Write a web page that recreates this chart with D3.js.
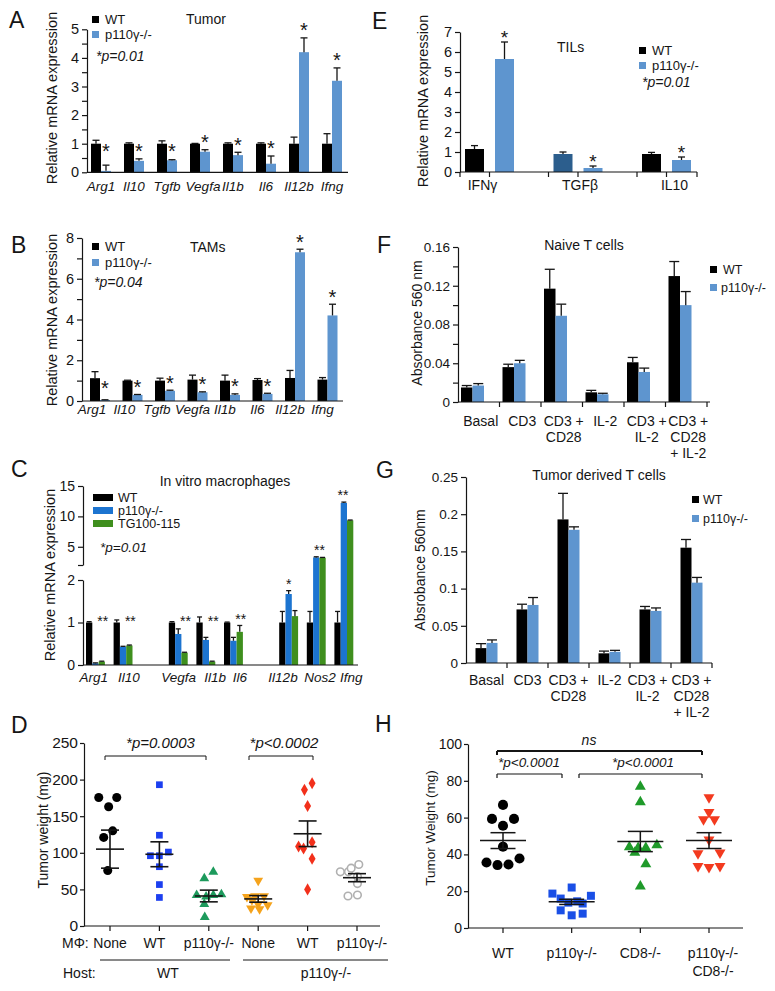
<!DOCTYPE html>
<html><head><meta charset="utf-8">
<script src="https://cdn.jsdelivr.net/npm/d3@7"></script>
<style>body{margin:0;background:#fff}svg{display:block}text{font-family:Arial,"Liberation Sans",sans-serif}</style>
</head><body><script>
// ================= DATA =================
// A: Tumor
const genesA = ["Arg1","Il10","Tgfb","Vegfa","Il1b","Il6","Il12b","Ifng"];
const tumorWT    = [1,1,1,1,1,1,1,1];
const tumorWTErr = [0.12,0.03,0.10,0.01,0.03,0.03,0.23,0.35];
const tumorKO    = [0.05,0.40,0.42,0.72,0.60,0.30,4.20,3.20];
const tumorKOErr = [0.20,0.07,0.02,0.07,0.10,0.27,0.50,0.45];
const tumorTicks = [0,1,2,3,4,5];
// B: TAMs
const tamWT    = [1.12,1.00,1.00,1.05,1.00,1.03,1.13,1.05];
const tamWTErr = [0.32,0.02,0.12,0.22,0.27,0.07,0.37,0.10];
const tamKO    = [0.05,0.30,0.50,0.43,0.30,0.35,7.30,4.20];
const tamKOErr = [0.01,0.02,0.03,0.02,0.05,0.03,0.15,0.55];
const tamTicks = [0,2,4,6,8];
// C: In vitro macrophages
const genesC = ["Arg1","Il10","Vegfa","Il1b","Il6","Il12b","Nos2","Ifng"];
const slotsC = ["Arg1","Il10","gap1","Vegfa","Il1b","Il6","gap2","Il12b","Nos2","Ifng"];
const vitroWT    = [1,1,1,1,1,1,1,1];
const vitroWTErr = [0.02,0.06,0.02,0.13,0.01,0.26,0.26,0.26];
const vitroKO    = [0.04,0.43,0.73,0.59,0.57,1.67,3.25,12.2];
const vitroKOErr = [0.01,0.01,0.12,0.06,0.08,0.08,0.10,0.15];
const vitroTG    = [0.08,0.46,0.29,0.08,0.78,1.15,3.20,9.35];
const vitroTGErr = [0.01,0.01,0.01,0.01,0.15,0.13,0.05,0.05];
const vitroSig   = ["**","**","**","**","**","*","**","**"];
// D: tumor weight, macrophage transfer
const dLabels = ["None","WT","p110γ-/-","None","WT","p110γ-/-"];
const dPoints = [
  [[175.6,-2.5],[175.6,1.5],[163,-0.3],[130,0.6],[121,-1.4],[75.7,-0.5]],
  [[193,0],[124,0],[96,-2],[96,0],[101,2],[81,0],[56.6,0],[39,0]],
  [[65,-1],[74,1],[42,-2.7],[40,-0.6],[42,1],[43,2.8],[30,-1],[12,-0.9]],
  [[62,0],[40,-2.5],[41,-0.7],[41,1.3],[35.6,-1.4],[30,0],[24,-1.6],[28.7,2.1],[23,0.3]],
  [[186,-0.7],[195,1],[164,0],[108.6,-2],[106,-0.9],[114.5,1],[92,1],[50,0]],
  [[74,-3.7],[74,-1.9],[84,0.4],[79,-1.3],[67.5,0.1],[58,0.1],[41,-2],[42.4,0.1]]
];
const dMean = [105,98,41,37,126,66];
const dSem  = [26,17,8,4.5,17.5,5.5];
const dTicks = [0,50,100,150,200,250];
// E: TILs
const tilGenes = ["IFNγ","TGFβ","IL10"];
const tilWT    = [1.15,0.90,0.90];
const tilWTErr = [0.17,0.10,0.08];
const tilKO    = [5.65,0.20,0.60];
const tilKOErr = [0.85,0.10,0.15];
const tilTicks = [0,1,2,3,4,5,6,7];
// F: Naive T cells
const stimLabels = [["Basal"],["CD3"],["CD3 +","CD28"],["IL-2"],["CD3 +","IL-2"],["CD3 +","CD28","+ IL-2"]];
const naiveWT    = [0.015,0.036,0.117,0.010,0.041,0.130];
const naiveWTErr = [0.002,0.003,0.020,0.002,0.005,0.015];
const naiveKO    = [0.017,0.040,0.089,0.008,0.031,0.100];
const naiveKOErr = [0.002,0.003,0.012,0.001,0.004,0.014];
const naiveTicks = [0,0.04,0.08,0.12,0.16];
// G: Tumor derived T cells
const tdWT    = [0.020,0.072,0.193,0.013,0.072,0.155];
const tdWTErr = [0.006,0.007,0.035,0.003,0.004,0.011];
const tdKO    = [0.027,0.078,0.179,0.015,0.070,0.108];
const tdKOErr = [0.004,0.010,0.004,0.002,0.004,0.007];
const tdTicks = [0,0.05,0.1,0.15,0.2,0.25];
// H: tumor weight, CD8
const hLabels = [["WT"],["p110γ-/-"],["CD8-/-"],["p110γ-/-","CD8-/-"]];
const hPoints = [
  [[66.9,0],[59.3,-2],[55.6,0],[59.3,2],[44.2,0],[35.6,-3],[34.2,-1],[34.5,1],[37.8,3]],
  [[22,0],[18.7,-3.5],[17.5,3.5],[16,-2],[14.5,1],[13.8,-0.6],[13.3,2],[9.6,-2],[7.8,2],[6.9,0]],
  [[76.9,0],[68.4,0],[44,-2],[43.6,-0.4],[43.6,1],[45,3],[41,-1],[34.7,1],[22.7,0]],
  [[71,0],[63,0],[59,-1],[59,1],[48,0],[40.5,-2],[41,2],[33.6,-2],[33,0],[33.6,2]]
];
const hMean = [47.5,14.2,47,47.5];
const hSem  = [4.3,1.4,5.5,4.3];
const hTicks = [0,20,40,60,80,100];

// ================= DRAWING =================
const INK = "#151515";
const LBLUE = "#5e95cf";
const svg = d3.select("body").append("svg").attr("width",775).attr("height",991);

function txt(x,y,s,o={}){
  return svg.append("text").attr("x",x).attr("y",y).text(s)
    .attr("font-size",o.fs||14).attr("text-anchor",o.anchor||"start")
    .attr("font-style",o.italic?"italic":null).attr("fill",o.fill||INK);
}
function vtitle(x,y,s,fs){
  svg.append("text").attr("transform",`translate(${x},${y}) rotate(-90)`)
    .attr("text-anchor","middle").attr("dominant-baseline","central")
    .attr("font-size",fs||14.5).attr("fill",INK).text(s);
}
function star(x,cy,s,fs){ txt(x, cy+0.575*fs, s, {fs, anchor:"middle"}); }
function hline(x1,x2,y,w){ svg.append("line").attr("x1",x1).attr("x2",x2).attr("y1",y).attr("y2",y).attr("stroke",INK).attr("stroke-width",w||1.2); }
function vline(x,y1,y2,w){ svg.append("line").attr("x1",x).attr("x2",x).attr("y1",y1).attr("y2",y2).attr("stroke",INK).attr("stroke-width",w||1.2); }

function yAxis(y,x,major,minor,fmt,fs,size,pad){
  const g = svg.append("g").attr("transform",`translate(${x},0)`);
  g.call(d3.axisLeft(y).tickValues(major).tickFormat(fmt).tickSize(size||5).tickSizeOuter(0).tickPadding(pad||3));
  if(minor){ const m=g.append("g").call(d3.axisLeft(y).tickValues(minor).tickFormat("").tickSize(size||5).tickSizeOuter(0)); m.select(".domain").remove(); }
  g.selectAll("text").attr("font-size",fs||14).attr("fill",INK).attr("font-family",'Arial,"Liberation Sans",sans-serif');
  g.selectAll("line,path").attr("stroke",INK).attr("stroke-width",1.2);
  return g;
}
function grouped(o){
  o.series.forEach((s,si)=>{
    const data = o.cats.map((c,i)=>({c,v:s.vals[i],e:s.errs[i],i}));
    const bw = o.inner.bandwidth();
    svg.append("g").selectAll("rect").data(data).join("rect")
      .attr("x",d=>o.x(d.c)+o.inner(si)).attr("width",bw)
      .attr("y",d=>o.y(d.v)).attr("height",d=>o.y(0)-o.y(d.v))
      .attr("fill",d=>typeof s.color==="function"?s.color(d.i):s.color);
    const eg = svg.append("g").attr("stroke",INK).attr("stroke-width",1.3);
    data.forEach(d=>{
      const cx=o.x(d.c)+o.inner(si)+bw/2, y1=o.y(d.v), y2=o.y(d.v+d.e);
      eg.append("line").attr("x1",cx).attr("x2",cx).attr("y1",y1).attr("y2",y2);
      eg.append("line").attr("x1",cx-o.cap).attr("x2",cx+o.cap).attr("y1",y2).attr("y2",y2);
    });
  });
}
function legendSq(x,y,color,label,fs,w,h,gap){
  svg.append("rect").attr("x",x).attr("y",y).attr("width",w||7).attr("height",h||7).attr("fill",color);
  txt(x+(w||7)+(gap||6), y+(h||7)+0.5, label, {fs:fs||13});
}

// Panel letters
[["A",9,28],["B",11,253],["C",11,477],["D",11,733],["E",372,29],["F",377,253],["G",376,478],["H",375,732]]
  .forEach(([l,x,y])=>txt(x,y,l,{fs:23}));

// ---------- A ----------
{
  const y = d3.scaleLinear().domain([0,5]).range([172.3,29.3]);
  const x = d3.scaleBand().domain(genesA).range([88,352]);
  const inner = d3.scaleBand().domain([0,1]).range([3,23]);
  grouped({cats:genesA,x,y,inner,cap:3.5,series:[{vals:tumorWT,errs:tumorWTErr,color:"#000"},{vals:tumorKO,errs:tumorKOErr,color:LBLUE}]});
  yAxis(y,87,tumorTicks,d3.range(0.5,5,1),d3.format("d"),14.5);
  hline(87,348,172.3);
  genesA.forEach((g,i)=>{
    const cx = x(g)+inner(1)+inner.bandwidth()/2;
    star(cx, Math.min(y(tumorKO[i]+tumorKOErr[i])-12, y(1)+3), "*", 20);
    txt(x(g)+13+(i===3?3:0), 191, g, {fs:13.5, anchor:"middle", italic:true});
  });
  vtitle(52,98,"Relative mRNA expression");
  legendSq(92,16,"#000","WT");
  legendSq(92,31,LBLUE,"p110γ-/-");
  txt(186,24,"Tumor");
  txt(96,61,"*p=0.01",{italic:true});
}
// ---------- B ----------
{
  const y = d3.scaleLinear().domain([0,8]).range([401,238]);
  const x = d3.scaleBand().domain(genesA).range([87,347]);
  const inner = d3.scaleBand().domain([0,1]).range([3,23]);
  grouped({cats:genesA,x,y,inner,cap:3.5,series:[{vals:tamWT,errs:tamWTErr,color:"#000"},{vals:tamKO,errs:tamKOErr,color:LBLUE}]});
  yAxis(y,82,tamTicks,[1,3,5,7],d3.format("d"),14.5);
  hline(82,343,401);
  genesA.forEach((g,i)=>{
    const cx = x(g)+inner(1)+inner.bandwidth()/2;
    star(cx, Math.min(y(tamKO[i]+tamKOErr[i])-12, y(1)+3), "*", 20);
    txt(x(g)+8-(i<3?3:0), 414, g, {fs:13.5, anchor:"middle", italic:true});
  });
  vtitle(52,320,"Relative mRNA expression");
  legendSq(92,243,"#000","WT");
  legendSq(92,259,LBLUE,"p110γ-/-");
  txt(190,252,"TAMs");
  txt(94,287,"*p=0.04",{italic:true});
}
// ---------- C ----------
{
  const yLo = d3.scaleLinear().domain([0,2]).range([665,580]);
  const yHi = d3.scaleLinear().domain([2,15]).range([565,486]);
  const y = v => v<=2 ? yLo(v) : yHi(v);
  const x = d3.scaleBand().domain(slotsC).range([83,359]);
  const inner = d3.scaleBand().domain([0,1,2]).range([3,21.9]);
  grouped({cats:genesC,x,y,inner,cap:2.5,series:[
    {vals:vitroWT,errs:vitroWTErr,color:"#000"},
    {vals:vitroKO,errs:vitroKOErr,color:"#1c74d0"},
    {vals:vitroTG,errs:vitroTGErr,color:"#3f8f1e"}]});
  yAxis(yLo,83,[0,1,2],null,d3.format("d"),14);
  yAxis(yHi,83,[2,5,10,15],null,d=>d===2?"":d,14);
  hline(83,358,665);
  const labelShift = [-3,4.5,-1,8,5,-7,2.5,6];
  genesC.forEach((g,i)=>{
    const high = Math.max(vitroKO[i]+vitroKOErr[i], vitroTG[i]+vitroTGErr[i]);
    const cy = Math.min(y(high)-10, yLo(1.1));
    const sx = vitroSig[i]==="*" ? x(g)+inner(1)+inner.bandwidth()/2 : (i>=6 ? x(g)+inner(2) + (i===7?-4:0) : x(g)+inner(2)+inner.bandwidth()/2+1);
    star(sx, cy, vitroSig[i], 14);
    txt(x(g)+x.bandwidth()/2+labelShift[i], 682, g, {fs:13.5, anchor:"middle", italic:true});
  });
  vtitle(50,575,"Relative mRNA expression");
  legendSq(93,494,"#000","WT",12.5,20,7,5);
  legendSq(93,507,"#1c74d0","p110γ-/-",12.5,20,7,5);
  legendSq(93,520,"#3f8f1e","TG100-115",12.5,20,7,5);
  txt(225,486,"In vitro macrophages");
  svg.selectAll("text").filter(function(){return this.textContent==="In vitro macrophages";}).attr("text-anchor","middle");
  txt(100,552,"*p=0.01",{italic:true,fs:13.5});
}
// ---------- D ----------
{
  const y = d3.scaleLinear().domain([0,250]).range([926,743]);
  const x = d3.scalePoint().domain(d3.range(6)).range([110,357]);
  yAxis(y,84,dTicks,null,d3.format("d"),15.5,4,2);
  hline(84,380,926);
  x.domain().forEach(i=>vline(x(i),926,931));
  const sym = [
    {t:d3.symbolCircle,s:64,fill:"#000"},
    {t:d3.symbolSquare,s:45,fill:"#1c3ff0"},
    {t:d3.symbolTriangle,s:42,fill:"#1d9a5c"},
    {t:d3.symbolTriangle,s:42,fill:"#f5a31c",rot:180},
    {t:d3.symbolDiamond,s:42,fill:"#f2301b"},
    {t:d3.symbolCircle,s:45,fill:"#fff",stroke:"#b0b0b0"}];
  dPoints.forEach((pts,gi)=>{
    const m = sym[gi];
    svg.append("g").selectAll("path").data(pts).join("path")
      .attr("d",d3.symbol(m.t,m.s))
      .attr("transform",d=>`translate(${x(gi)+d[1]*4.5},${y(d[0])}) rotate(${m.rot||0})`)
      .attr("fill",m.fill).attr("stroke",m.stroke||"none").attr("stroke-width",1.6);
    const cx=x(gi);
    hline(cx-14,cx+14,y(dMean[gi]),1.6);
    hline(cx-9,cx+9,y(dMean[gi]+dSem[gi]),1.6);
    hline(cx-9,cx+9,y(dMean[gi]-dSem[gi]),1.6);
    vline(cx,y(dMean[gi]+dSem[gi]),y(dMean[gi]-dSem[gi]),1.6);
    txt(cx+(gi===5?5:gi===1?-5:0),948,dLabels[gi],{anchor:"middle",fs:14});
  });
  txt(62,948,"MΦ:",{fs:14});
  hline(100,230,960,1); hline(243,388,960,1);
  txt(63,978,"Host:"); txt(168,978,"WT",{anchor:"middle"}); txt(326,978,"p110γ-/-",{anchor:"middle"});
  [[105,206,"*p=0.0003"],[249,313,"*p<0.0002"]].forEach(([a,b,s])=>{
    hline(a,b,756,1); vline(a,756,760,1); vline(b,756,760,1);
    txt((a+b)/2+(s.includes("<")?3:5),748,s,{italic:true,anchor:"middle",fs:15});
  });
  vtitle(43,830,"Tumor weight (mg)",14);
}
// ---------- E ----------
{
  const y = d3.scaleLinear().domain([0,7]).range([172,32]);
  const x = d3.scaleBand().domain(tilGenes).range([460,725.5]);
  const inner = d3.scaleBand().domain([0,1]).range([5,54]).paddingInner(0.367);
  grouped({cats:tilGenes,x,y,inner,cap:3.5,series:[
    {vals:tilWT,errs:tilWTErr,color:i=>i===1?"#2c5e8d":"#000"},
    {vals:tilKO,errs:tilKOErr,color:LBLUE}]});
  yAxis(y,460,tilTicks,null,d3.format("d"),14.5);
  hline(460,697,172);
  tilGenes.forEach((g,i)=>{
    const pc = x(g)+29.5;
    vline(x(g),172,177); vline(pc,172,177);
    const cx = x(g)+inner(1)+inner.bandwidth()/2;
    star(cx, y(tilKO[i]+tilKOErr[i])-9, "*", 19);
    txt(pc-(i===0?7:i===1?-2:-8), 190, g, {anchor:"middle"});
  });
  vline(697,172,177);
  vtitle(423,101,"Relative mRNA expression");
  legendSq(639,47,"#000","WT");
  legendSq(639,62,LBLUE,"p110γ-/-");
  txt(557,52,"TILs");
  txt(642,87,"*p=0.01",{italic:true});
}
// ---------- F ----------
const stimKeys = stimLabels.map(l=>l.join(" "));
{
  const y = d3.scaleLinear().domain([0,0.16]).range([402,247]);
  const x = d3.scaleBand().domain(stimKeys).range([458,707]);
  const inner = d3.scaleBand().domain([0,1]).range([3,26]);
  grouped({cats:stimKeys,x,y,inner,cap:5,series:[{vals:naiveWT,errs:naiveWTErr,color:"#000"},{vals:naiveKO,errs:naiveKOErr,color:LBLUE}]});
  yAxis(y,458,naiveTicks,[0.02,0.06,0.1,0.14],d=>d===0?"0":d3.format(".2f")(d),13.5);
  hline(458,710,402);
  stimKeys.forEach((k,i)=>{
    vline(x(k)+x.bandwidth(),402,407);
    stimLabels[i].forEach((l,j)=>txt(x(k)+x.bandwidth()/2+2,426+16*j,l,{anchor:"middle",fs:14}));
  });
  vtitle(417,323,"Absorbance 560 nm",14);
  legendSq(710,266,"#000","WT",12.5);
  legendSq(710,284,LBLUE,"p110γ-/-",12.5,7,7,4);
  txt(584,250,"Naive T cells",{anchor:"middle"});
}
// ---------- G ----------
{
  const y = d3.scaleLinear().domain([0,0.25]).range([663,477]);
  const x = d3.scaleBand().domain(stimKeys).range([466,712]);
  const inner = d3.scaleBand().domain([0,1]).range([9.5,31.5]);
  grouped({cats:stimKeys,x,y,inner,cap:5,series:[{vals:tdWT,errs:tdWTErr,color:"#000"},{vals:tdKO,errs:tdKOErr,color:LBLUE}]});
  yAxis(y,466,tdTicks,null,d=>d===0?"0":String(d),13.5);
  hline(466,712,663);
  stimKeys.forEach((k,i)=>{
    vline(x(k)+x.bandwidth(),663,668);
    stimLabels[i].forEach((l,j)=>txt(x(k)+x.bandwidth()/2+(i===4?-3:0),685+16*j,l,{anchor:"middle",fs:14}));
  });
  vtitle(420,570,"Absrobance 560nm",14);
  legendSq(692,496,"#000","WT",12.5,7,7,4);
  legendSq(692,515,LBLUE,"p110γ-/-",12.5,7,7,4);
  txt(599,480,"Tumor derived T cells",{anchor:"middle"});
}
// ---------- H ----------
{
  const y = d3.scaleLinear().domain([0,100]).range([928,744]);
  const x = d3.scalePoint().domain(d3.range(4)).range([503,709]);
  yAxis(y,468,hTicks,null,d3.format("d"),14,4,2);
  hline(468,743,928);
  x.domain().forEach(i=>vline(x(i),928,933));
  const sym = [
    {t:d3.symbolCircle,s:80,fill:"#000"},
    {t:d3.symbolSquare,s:64,fill:"#1a4fe6"},
    {t:d3.symbolTriangle,s:52,fill:"#1f9a2a"},
    {t:d3.symbolTriangle,s:52,fill:"#f33a1f",rot:180}];
  hPoints.forEach((pts,gi)=>{
    const m=sym[gi];
    svg.append("g").selectAll("path").data(pts).join("path")
      .attr("d",d3.symbol(m.t,m.s))
      .attr("transform",d=>`translate(${x(gi)+d[1]*5.5},${y(d[0])}) rotate(${m.rot||0})`)
      .attr("fill",m.fill);
    const cx=x(gi);
    hline(cx-23,cx+23,y(hMean[gi]),1.5);
    hline(cx-12.5,cx+12.5,y(hMean[gi]+hSem[gi]),1.5);
    hline(cx-12.5,cx+12.5,y(hMean[gi]-hSem[gi]),1.5);
    vline(cx,y(hMean[gi]+hSem[gi]),y(hMean[gi]-hSem[gi]),1.5);
    hLabels[gi].forEach((l,j)=>txt(cx+(gi===3?4:0),958+18*j,l,{anchor:"middle",fs:14}));
  });
  hline(497,702,751,2); vline(497,751,755,2); vline(702,751,755,2);
  txt(589,745,"ns",{italic:true,anchor:"middle",fs:14});
  [[497,562,529],[579,702,643]].forEach(([a,b,t])=>{
    hline(a,b,774,1.2); vline(a,774,778,1.2); vline(b,774,778,1.2);
    txt(t,767,"*p<0.0001",{italic:true,anchor:"middle",fs:13.5});
  });
  vtitle(430,828,"Tumor Weight (mg)",13.5);
}
</script></body></html>
